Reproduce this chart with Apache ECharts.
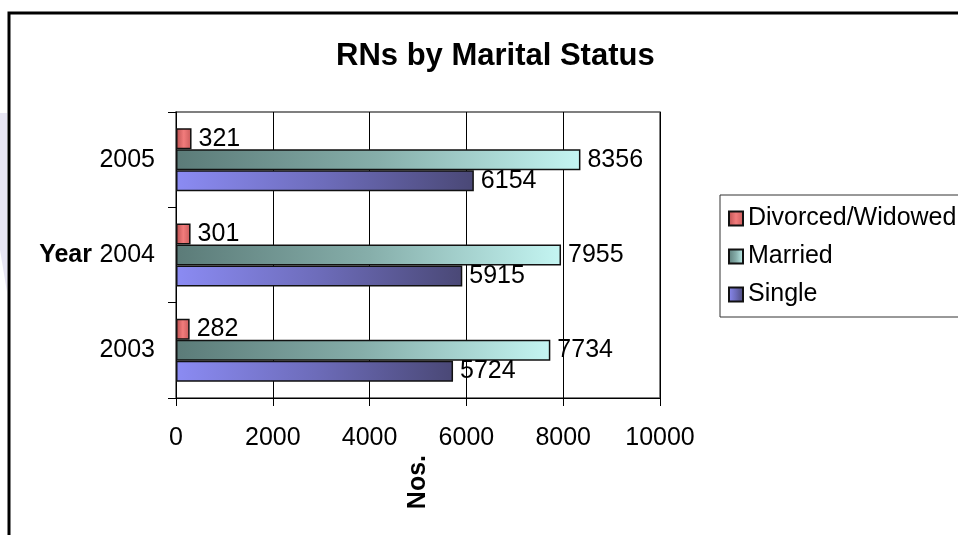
<!DOCTYPE html>
<html>
<head>
<meta charset="utf-8">
<title>RNs by Marital Status</title>
<script src="https://cdn.jsdelivr.net/npm/echarts@6/dist/echarts.min.js"></script>
<style>
    html,body{margin:0;padding:0;background:#fff;}
    #main{width:958px;height:535px;}
</style>
</head>
<body>
<div id="main"></div>
<script>
    var years = ['2003', '2004', '2005'];
    var single = [5724, 5915, 6154];
    var married = [7734, 7955, 8356];
    var divorced = [282, 301, 321];
    var legendNames = ['Divorced/Widowed', 'Married', 'Single'];
    var xTicks = [0, 2000, 4000, 6000, 8000, 10000];

    var font = 'Liberation Sans, Arial, sans-serif';
    var fs = 25;

    function grad(stops) {
        return {
            type: 'linear', x: 0, y: 0, x2: 1, y2: 0,
            colorStops: stops.map(function (c, i) {
                return {offset: i / (stops.length - 1), color: c};
            })
        };
    }

    function barSeries(name, data, color) {
        return {
            name: name,
            type: 'bar',
            data: data,
            barWidth: 21,
            barGap: '0%',
            itemStyle: {color: color, borderColor: '#111', borderWidth: 1.5},
            label: {
                show: true,
                position: 'right',
                distance: 7,
                color: '#000',
                fontFamily: font,
                fontSize: fs
            }
        };
    }

    var myChart = echarts.init(document.getElementById('main'));
    var option = {
        backgroundColor: '#fff',
        animation: false,
        title: {
            text: 'RNs by Marital Status',
            left: 331,
            top: 36,
            textStyle: {fontFamily: font, fontSize: 31, fontWeight: 'bold', color: '#000'}
        },
        //outer frame + the faint shape on the left edge
        graphic: [
            {
                type: 'polygon',
                shape: {points: [[0, 113], [7, 113], [7, 292], [0, 250]]},
                style: {fill: '#e7e5f3'},
                silent: true
            },
            {
                type: 'rect',
                shape: {x: 9, y: 13, width: 1000, height: 600},
                style: {fill: 'none', stroke: '#000', lineWidth: 3},
                silent: true
            }
        ],
        legend: {
            data: legendNames,
            orient: 'vertical',
            left: 720,
            top: 195,
            padding: [11, 12, 10, 8],
            itemGap: 13,
            itemWidth: 14,
            itemHeight: 14,
            icon: 'rect',
            borderColor: '#333',
            borderWidth: 1,
            textStyle: {fontFamily: font, fontSize: fs, color: '#000'}
        },
        grid: {
            left: 176,
            right: 298,
            top: 112,
            bottom: 137,
            show: true,
            backgroundColor: '#fff',
            borderColor: '#555',
            borderWidth: 1.5
        },
        xAxis: {
            type: 'value',
            min: xTicks[0],
            max: xTicks[xTicks.length - 1],
            interval: xTicks[1] - xTicks[0],
            name: 'Nos.',
            nameLocation: 'middle',
            nameRotate: 90,
            nameGap: 57,
            nameTextStyle: {fontFamily: font, fontSize: fs, fontWeight: 'bold', color: '#000'},
            axisLine: {show: true, lineStyle: {color: '#000', width: 1}},
            axisTick: {show: true, length: 8, lineStyle: {color: '#000'}},
            axisLabel: {
                fontFamily: font, fontSize: fs, color: '#000', margin: 28,
                formatter: function (v) { return String(v); }
            },
            splitLine: {show: true, lineStyle: {color: '#000', width: 1}}
        },
        yAxis: {
            type: 'category',
            data: years,
            name: 'Year',
            nameLocation: 'middle',
            nameRotate: 0,
            nameGap: 84,
            nameTextStyle: {fontFamily: font, fontSize: fs, fontWeight: 'bold', color: '#000'},
            axisLine: {show: true, lineStyle: {color: '#000', width: 1}},
            axisTick: {show: true, length: 8, alignWithLabel: false, lineStyle: {color: '#000'}},
            axisLabel: {fontFamily: font, fontSize: fs, color: '#000', margin: 21},
            splitLine: {show: false}
        },
        // first series is drawn at the top of each band
        series: [
            barSeries('Divorced/Widowed', divorced, grad(['#b84e4e', '#f27c7c', '#c85a5a'])),
            barSeries('Married', married, grad(['#5b7b78', '#86aeaa', '#c4f5f2'])),
            barSeries('Single', single, grad(['#8b8bf3', '#6d6cba', '#4a4876']))
        ]
    };
    myChart.setOption(option);
</script>
</body>
</html>
